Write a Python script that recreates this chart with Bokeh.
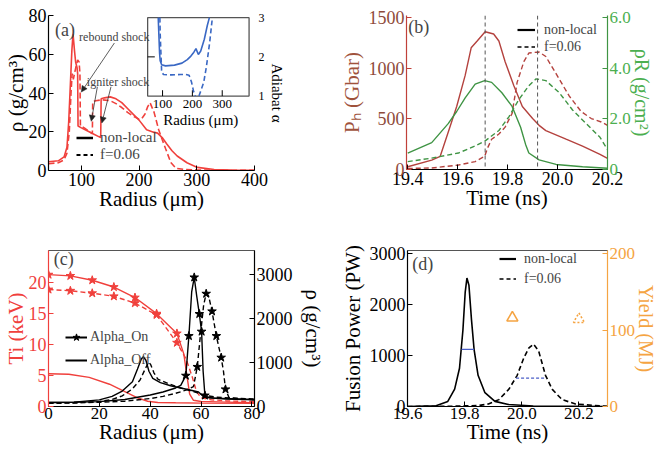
from bokeh.plotting import figure
from bokeh.models import (Range1d, LinearAxis, FixedTicker, Label, Arrow, NormalHead,
                          Legend, LegendItem, Span, PrintfTickFormatter)
from bokeh.layouts import row, column
from bokeh.embed import file_html
from bokeh.resources import INLINE
from bokeh.core.properties import value

FONT = "Liberation Serif"
NAN = float("nan")

# ---------------- data: panel (a) ----------------
a_r_nl = [43, 60, 70, 75, 78, 81, 83.5, 85.5, 88, 90, 92.5, 93.5, 94.2, 100, 110, 120, 130, 133.5, 134.2,
          140, 150, 160, 170, 180, 190, 200, 213, 225, 232, 240, 248, 257, 266, 283, 301, 330, 360, 400]
a_rho_nl = [4.5, 5, 7, 12, 25, 45, 62, 70.5, 62, 56, 53, 50, 23, 22, 20.5, 19, 17.5, 17, 37,
            37.5, 38, 37, 35, 32, 29, 26, 21, 19.8, 19.3, 17, 13.7, 10.2, 7.5, 4, 1.6, 0.5, 0.2, 0.1]
a_r_f = [43, 60, 70, 75, 79, 82, 84, 86, 88, 91, 93.5, 96, 97.5, 98.3, 105, 112, 119, 119.6, 125, 135,
         150, 160, 170, 180, 190, 200, 205, 210, 215, 219, 226, 234, 240, 246, 255, 264, 280, 300, 340, 400]
a_rho_f = [3.5, 4, 5.5, 9, 20, 40, 50, 47, 50, 54, 57, 56, 50, 23, 22, 20.5, 19, 35.5, 36, 36.5,
           36, 34.5, 32.5, 30, 28, 26.5, 27, 29, 33, 35, 30, 21, 16, 11.2, 4.1, 1.1, 0.5, 0.3, 0.15, 0.1]
A_XTICKS = [100, 200, 300, 400]
A_YTICKS = [0, 20, 40, 60, 80]

# inset (adiabat)
ins_r_nl = [85.5, 88, 90, 92, 97, 110, 140, 165, 183, 195, 205, 212, 220, 228, 240, 250, 257]
ins_a_nl = [3.0, 2.5, 2.1, 1.9, 1.8, 1.77, 1.79, 1.84, 1.93, 2.02, 2.12, 2.21, 2.06, 2.15, 2.45, 2.8, 3.0]
ins_r_f = [91, 92, 95, 97, 103, 130, 160, 178, 189, 197, 204, 210, NAN, 222, 229, 238, 247, 258, 267]
ins_a_f = [3.0, 2.6, 2.0, 1.62, 1.55, 1.54, 1.55, 1.55, 1.53, 1.36, 1.12, 1.0, NAN, 1.0, 1.15, 1.35, 1.75, 2.37, 3.0]
INS_XTICKS = [100, 200, 300]
INS_YTICKS = [1, 2, 3]

# ---------------- data: panel (b) ----------------
b_t_nl = [19.4, 19.496, 19.53, 19.562, 19.596, 19.63, 19.654, 19.678, 19.71, 19.744, 19.765, 19.79,
          19.825, 19.859, 19.9, 19.926, 19.953, 20.034, 20.1, 20.17, 20.2]
b_p_nl = [27, 93, 130, 367, 622, 929, 1201, 1268, 1360, 1337, 1268, 1064, 827, 622, 503, 436, 384, 299, 231, 150, 110]
b_t_f = [19.4, 19.496, 19.603, 19.67, 19.708, 19.72, 19.736, 19.765, 19.79, 19.818, 19.838, 19.865,
         19.885, 19.926, 19.953, 19.994, 20.047, 20.095, 20.135, 20.175, 20.2]
b_p_f = [10, 15, 44, 78, 130, 214, 299, 350, 418, 554, 860, 1064, 1150, 1160, 1115, 946, 724, 571, 503, 469, 436]
b_t_rr_nl = [19.4, 19.496, 19.562, 19.596, 19.63, 19.67, 19.708, 19.736, 19.777, 19.818, 19.852, 19.872,
             19.885, 19.926, 19.994, 20.1, 20.2]
b_rr_nl = [0.65, 1.06, 1.81, 2.29, 2.83, 3.37, 3.51, 3.44, 3.03, 2.49, 1.67, 0.99, 0.65, 0.38, 0.2, 0.11, 0.05]
b_t_rr_f = [19.4, 19.496, 19.603, 19.67, 19.71, 19.765, 19.805, 19.845, 19.885, 19.914, 19.953, 20.007,
            20.06, 20.115, 20.17, 20.2]
b_rr_f = [0.31, 0.45, 0.65, 0.93, 1.13, 1.54, 2.08, 2.76, 3.31, 3.58, 3.51, 3.03, 2.35, 1.81, 1.27, 0.79]
b_vlines = [19.71, 19.92]
B_XTICKS = [19.4, 19.6, 19.8, 20.0, 20.2]
B_YTICKS = [0, 500, 1000, 1500]
B_RTICKS = [0, 2, 4, 6]
B_RLABELS = {0: "0", 2: "2.0", 4: "4.0", 6: "6.0"}

# ---------------- data: panel (c) ----------------
c_r_ti_on_nl = [0, 8.6, 17.2, 25.7, 34, 42.5, 50.5, 53.2, 54.6, 55.5, 57, 60, 70, 81]
c_ti_on_nl = [21.3, 21.1, 20.4, 19.3, 17.6, 15.0, 11.8, 8.5, 4.5, 2.0, 1.0, 0.8, 0.7, 0.6]
c_r_ti_on_f = [0, 8.6, 17.2, 25.7, 34, 42.5, 50.5, 54.2, 56.5, 58.2, 60, 64, 70, 81]
c_ti_on_f = [18.9, 18.7, 18.3, 17.8, 16.7, 14.8, 10.3, 7.6, 4.8, 2.4, 1.4, 1.1, 0.9, 0.8]
c_ti_star_idx = [0, 1, 2, 3, 4, 5, 6]
c_r_ti_off = [0, 8, 16, 24, 28, 31, 35, 39, 43, 50, 60, 81]
c_ti_off = [5.3, 5.2, 4.7, 3.6, 2.8, 2.2, 1.4, 0.85, 0.65, 0.6, 0.55, 0.5]

c_r_rho_on_nl = [0, 10, 20, 30, 40, 45, 50, 52, 54, 55.2, 56.3, 57.3, 58.3, 59.3, 60.2, 60.8, 61.5, 63, 70, 81]
c_rho_on_nl = [90, 95, 110, 160, 260, 330, 420, 480, 700, 1600, 2600, 2930, 2500, 2100, 1700, 800, 250, 200, 170, 150]
c_on_nl_star_idx = [8, 9, 11, 13, 14, 16]
c_r_rho_on_f = [0, 10, 20, 30, 40, 45, 50, 54, 57, 58.5, 59.7, 61, 62, 63, 64.3, 66, 67.9, 68.8, 69.6, 71, 81]
c_rho_on_f = [80, 85, 95, 120, 180, 230, 300, 370, 450, 900, 1600, 2300, 2560, 2500, 2160, 1600, 1110, 800, 390, 200, 150]
c_on_f_star_idx = [9, 12, 14, 15, 16, 18]
c_r_rho_off_nl = [0, 10, 20, 25, 29, 33, 35, 36.5, 37.3, 38.3, 39.5, 41, 44, 48, 52, 56, 59, 61, 65, 81]
c_rho_off_nl = [90, 100, 150, 230, 350, 560, 850, 1080, 1130, 1050, 800, 640, 540, 470, 420, 370, 330, 220, 190, 160]
c_r_rho_off_f = [0, 10, 20, 25, 29, 33, 36, 38, 39.4, 40.2, 41.5, 43, 47, 52, 57, 61, 66, 72, 81]
c_rho_off_f = [70, 80, 110, 160, 240, 400, 600, 850, 1010, 950, 760, 620, 520, 420, 340, 260, 210, 190, 170]
C_XTICKS = [0, 20, 40, 60, 80]
C_YTICKS = [0, 5, 10, 15, 20]
C_RTICKS = [0, 1000, 2000, 3000]

# ---------------- data: panel (d) ----------------
d_t_nl = [19.6, 19.7, 19.741, 19.765, 19.782, 19.794, 19.802, 19.808, 19.815, 19.824, 19.833, 19.847,
          19.871, 19.906, 19.953, 20.04, 20.3]
d_p_nl = [0, 15, 100, 340, 750, 1500, 2245, 2520, 2380, 1700, 1122, 612, 271, 100, 40, 10, 0]
d_t_f = [19.6, 19.75, 19.85, 19.883, 19.92, 19.955, 19.984, 20.007, 20.025, 20.041, 20.059, 20.083,
         20.106, 20.141, 20.188, 20.28, 20.3]
d_p_f = [0, 5, 20, 50, 135, 340, 612, 953, 1150, 1224, 1088, 612, 340, 135, 50, 10, 5]
d_fwhm_nl_t = [19.789, 19.833]
d_fwhm_nl_p = 1120
d_fwhm_f_t = [19.98, 20.08]
d_fwhm_f_p = 558
d_yield_t = [19.967, 20.2]
d_yield = [116, 114]
D_XTICKS = [19.6, 19.8, 20.0, 20.2]
D_YTICKS = [0, 1000, 2000, 3000]
D_RTICKS = [0, 100, 200]

# ---------------- styles ----------------
RED = "#f0403c"
BLUE = "#3a68c4"
B_RED = "#b4423e"
B_GREEN = "#3f9444"
B_LTXT = "#8e4a3a"
B_RTXT = "#4caf50"
ORANGE = "#f5a442"
FW_BLUE = "#4b5fc8"
GRAY = "#555555"


def base_fig(fw, fh, xr, yr, bl, br, bt, bb, outline=None):
    p = figure(frame_width=fw, frame_height=fh, x_range=Range1d(*xr), y_range=Range1d(*yr),
               output_backend="svg", toolbar_location=None,
               min_border_left=bl, min_border_right=br, min_border_top=bt, min_border_bottom=bb)
    p.xgrid.visible = False
    p.ygrid.visible = False
    p.outline_line_color = outline
    p.outline_line_width = 1
    return p


def style_axis(ax, ticks, line_color="black", text_color="black", label=None, label_color=None,
               tick_size="18px", label_size="21px", tick_standoff=2, label_standoff=-2):
    ax.ticker = FixedTicker(ticks=ticks)
    ax.axis_line_color = line_color
    ax.axis_line_width = 1.2
    ax.major_tick_line_color = line_color
    ax.major_tick_in = 5
    ax.major_tick_out = 0
    ax.minor_tick_line_color = None
    ax.major_label_text_font = FONT
    ax.major_label_text_font_size = tick_size
    ax.major_label_text_color = text_color
    ax.major_label_standoff = tick_standoff
    if label:
        ax.axis_label = label
        ax.axis_label_text_font = FONT
        ax.axis_label_text_font_style = "normal"
        ax.axis_label_text_font_size = label_size
        ax.axis_label_text_color = label_color or text_color
        ax.axis_label_standoff = label_standoff


def add_legend(p, items, loc, gw, gh, spacing, standoff, size="14px"):
    lg = Legend(items=items, location=loc, orientation="vertical",
                background_fill_alpha=0, border_line_color=None,
                label_text_font=FONT, label_text_font_size=size,
                glyph_width=gw, glyph_height=gh, label_height=gh,
                spacing=spacing, padding=0, margin=0, label_standoff=standoff)
    p.add_layout(lg)


def panel_label(p, x, y, text, size="18px", **kw):
    p.add_layout(Label(x=x, y=y, text=text, text_font=FONT, text_font_size=size,
                       text_align="center", text_baseline="middle", **kw))


def legend_line(p, **kw):
    return p.line(x=[NAN], y=[NAN], **kw)


# ================= panel (a) =================
pa = base_fig(206, 155, (43, 400), (0, 80), 47, 78, 9, 61)
style_axis(pa.xaxis[0], A_XTICKS, label="Radius (μm)")
style_axis(pa.yaxis[0], A_YTICKS, label="ρ (g/cm³)")
pa.line(a_r_nl, a_rho_nl, line_color=RED, line_width=1.6)
pa.line(a_r_f, a_rho_f, line_color=RED, line_width=1.6, line_dash="6 3")

INS_XSRC = (50, 390)
INS_YSRC = (1, 3)
INS_XTGT = (214.8, 390.6)
INS_YTGT = (38.4, 78.9)
ins = pa.subplot(x_source=Range1d(*INS_XSRC), y_source=Range1d(*INS_YSRC),
                 x_target=Range1d(*INS_XTGT), y_target=Range1d(*INS_YTGT))
ins.quad(left=[INS_XSRC[0]], right=[INS_XSRC[1]], bottom=[INS_YSRC[0]], top=[INS_YSRC[1]],
         fill_color="white", line_color=GRAY, line_width=1.3)
ins.segment(x0=INS_XTICKS, y0=[INS_YSRC[0]] * 3, x1=INS_XTICKS, y1=[INS_YSRC[0] + 0.15] * 3,
            line_color="black", line_width=1)
ins.segment(x0=[INS_XSRC[0]], y0=[2], x1=[INS_XSRC[0] + 24], y1=[2], line_color="black", line_width=1)
ins.line(ins_r_nl, ins_a_nl, line_color=BLUE, line_width=1.6)
ins.line(ins_r_f, ins_a_f, line_color=BLUE, line_width=1.6, line_dash="5 3")
ins.text(x=INS_XTICKS, y=[0.79] * 3, text=[str(t) for t in INS_XTICKS], text_align="center",
         text_baseline="middle", text_font=value(FONT), text_font_size=value("13px"))
ins.text(x=[228], y=[0.39], text=["Radius (μm)"], text_align="center", text_baseline="middle",
         text_font=value(FONT), text_font_size=value("15px"))

_k = (INS_YSRC[1] - INS_YSRC[0]) / (INS_YTGT[1] - INS_YTGT[0])
alpha_lo = INS_YSRC[0] + (0 - INS_YTGT[0]) * _k
alpha_hi = INS_YSRC[0] + (80 - INS_YTGT[0]) * _k
pa.extra_y_ranges = {"alpha": Range1d(alpha_lo, alpha_hi)}
ax_al = LinearAxis(y_range_name="alpha", bounds=INS_YSRC)
style_axis(ax_al, INS_YTICKS, label="Adiabat α", tick_size="12px", label_size="15px",
           tick_standoff=4, label_standoff=1)
ax_al.axis_line_color = None
ax_al.major_tick_line_color = None
pa.add_layout(ax_al, "right")

for xs, ys, xe, ye in [(157.2, 65.8, 99.8, 40.5), (127.7, 43.2, 117.1, 25.4), (151.3, 43.2, 135.4, 24.5)]:
    pa.add_layout(Arrow(end=NormalHead(size=6, fill_color="#222222", line_color="#222222", line_width=0.5),
                        x_start=xs, y_start=ys, x_end=xe, y_end=ye, line_color="#333333", line_width=0.8))
panel_label(pa, 157, 69.1, "rebound shock", size="12px")
panel_label(pa, 163.5, 45.9, "igniter shock", size="12px")
panel_label(pa, 71.4, 72.5, "(a)")

la1 = legend_line(pa, line_color="black", line_width=2.5)
la2 = legend_line(pa, line_color="black", line_width=2.0, line_dash="4 3")
add_legend(pa, [LegendItem(label="non-local", renderers=[la1]), LegendItem(label="f=0.06", renderers=[la2])],
           (28, 7), 17, 17, 0, 7, size="15px")

# ================= panel (b) =================
pb = base_fig(201, 154, (19.395, 20.2), (0, 1520), 74, 54, 15, 56)
pb.extra_y_ranges = {"rr": Range1d(0, 6.08)}
style_axis(pb.xaxis[0], B_XTICKS, label="Time (ns)")
pb.xaxis[0].formatter = PrintfTickFormatter(format="%.1f")
style_axis(pb.yaxis[0], B_YTICKS, line_color="#c0403a", text_color=B_LTXT, label="Pₕ (Gbar)",
           label_color="#a0523c", label_standoff=2)
ax_rr = LinearAxis(y_range_name="rr")
style_axis(ax_rr, B_RTICKS, line_color=B_GREEN, text_color=B_RTXT, label="ρR (g/cm²)", label_color=B_RTXT,
           tick_size="17px", label_size="20px", label_standoff=-3)
ax_rr.major_label_overrides = B_RLABELS
pb.add_layout(ax_rr, "right")
for t in b_vlines:
    pb.add_layout(Span(location=t, dimension="height", line_color=GRAY, line_dash="4 3", line_width=1))
pb.line(b_t_nl, b_p_nl, line_color=B_RED, line_width=1.4)
pb.line(b_t_f, b_p_f, line_color=B_RED, line_width=1.4, line_dash="5 3")
pb.line(b_t_rr_nl, b_rr_nl, line_color=B_GREEN, line_width=1.4, y_range_name="rr")
pb.line(b_t_rr_f, b_rr_f, line_color=B_GREEN, line_width=1.4, line_dash="5 3", y_range_name="rr")
panel_label(pb, 19.444, 1408, "(b)")
lb1 = legend_line(pb, line_color="black", line_width=2.2)
lb2 = legend_line(pb, line_color="black", line_width=1.5, line_dash="4 3")
add_legend(pb, [LegendItem(label="non-local", renderers=[lb1]), LegendItem(label="f=0.06", renderers=[lb2])],
           (111, 114), 18, 17, 0, 9, size="14px")

# ================= panel (c) =================
pc = base_fig(206, 156, (0, 81), (0, 25.2), 47, 78, 25, 43, outline=GRAY)
pc.extra_y_ranges = {"rho": Range1d(0, 3540)}
style_axis(pc.xaxis[0], C_XTICKS, label="Radius (μm)", tick_size="17px", tick_standoff=1, label_standoff=-2)
style_axis(pc.yaxis[0], C_YTICKS, line_color=RED, text_color=RED, label="Ti (keV)")
ax_rho = LinearAxis(y_range_name="rho")
style_axis(ax_rho, C_RTICKS, label="ρ (g/cm³)", label_standoff=5)
pc.add_layout(ax_rho, "right")

pc.line(c_r_ti_on_nl, c_ti_on_nl, line_color=RED, line_width=1.4)
pc.line(c_r_ti_on_f, c_ti_on_f, line_color=RED, line_width=1.4, line_dash="5 3")
pc.scatter([c_r_ti_on_nl[i] for i in c_ti_star_idx], [c_ti_on_nl[i] for i in c_ti_star_idx],
           marker="star", size=9, fill_color=RED, line_color=RED)
pc.scatter([c_r_ti_on_f[i] for i in c_ti_star_idx], [c_ti_on_f[i] for i in c_ti_star_idx],
           marker="star", size=9, fill_color=RED, line_color=RED)
pc.line(c_r_ti_off, c_ti_off, line_color=RED, line_width=1.4)

pc.line(c_r_rho_off_nl, c_rho_off_nl, line_color="black", line_width=1.4, y_range_name="rho")
pc.line(c_r_rho_off_f, c_rho_off_f, line_color="black", line_width=1.4, line_dash="5 3", y_range_name="rho")
pc.line(c_r_rho_on_nl, c_rho_on_nl, line_color="black", line_width=1.4, y_range_name="rho")
pc.line(c_r_rho_on_f, c_rho_on_f, line_color="black", line_width=1.4, line_dash="5 3", y_range_name="rho")
pc.scatter([c_r_rho_on_nl[i] for i in c_on_nl_star_idx], [c_rho_on_nl[i] for i in c_on_nl_star_idx],
           marker="star", size=9, fill_color="black", line_color="black", y_range_name="rho")
pc.scatter([c_r_rho_on_f[i] for i in c_on_f_star_idx], [c_rho_on_f[i] for i in c_on_f_star_idx],
           marker="star", size=9, fill_color="black", line_color="black", y_range_name="rho")
panel_label(pc, 6.0, 23.8, "(c)")
lc1 = legend_line(pc, line_color="black", line_width=2.0)
lc1s = pc.scatter(x=[NAN], y=[NAN], marker="star", size=10, fill_color="black", line_color="black")
lc2 = legend_line(pc, line_color="black", line_width=2.0)
add_legend(pc, [LegendItem(label="Alpha_On", renderers=[lc1, lc1s]), LegendItem(label="Alpha_Off", renderers=[lc2])],
           (17, 37), 22, 18, 5, 3, size="14px")

# ================= panel (d) =================
pd_ = base_fig(200, 156, (19.6, 20.3), (0, 3060), 75, 54, 25, 43, outline=GRAY)
pd_.extra_y_ranges = {"yield": Range1d(0, 204)}
style_axis(pd_.xaxis[0], D_XTICKS, label="Time (ns)", tick_size="17px", tick_standoff=1, label_standoff=-2)
pd_.xaxis[0].formatter = PrintfTickFormatter(format="%.1f")
style_axis(pd_.yaxis[0], D_YTICKS, label="Fusion Power (PW)", label_standoff=2)
ax_y = LinearAxis(y_range_name="yield")
style_axis(ax_y, D_RTICKS, line_color=ORANGE, text_color=ORANGE, label="Yield (MJ)",
           tick_size="17px", label_size="20px", label_standoff=-3)
pd_.add_layout(ax_y, "right")
pd_.line(d_t_nl, d_p_nl, line_color="black", line_width=1.6)
pd_.line(d_t_f, d_p_f, line_color="black", line_width=1.6, line_dash="5 3")
pd_.line(d_fwhm_nl_t, [d_fwhm_nl_p] * 2, line_color=FW_BLUE, line_width=1.2)
pd_.line(d_fwhm_f_t, [d_fwhm_f_p] * 2, line_color=FW_BLUE, line_width=1.2, line_dash="3 2")
pd_.scatter([d_yield_t[0]], [d_yield[0]], marker="triangle", size=11, fill_color=None,
            line_color=ORANGE, line_width=1.6, y_range_name="yield")
pd_.scatter([d_yield_t[1]], [d_yield[1]], marker="triangle", size=11, fill_color=None,
            line_color=ORANGE, line_width=1.6, line_dash="2 2", y_range_name="yield")
panel_label(pd_, 19.653, 2790, "(d)")
ld1 = legend_line(pd_, line_color="black", line_width=2.2)
ld2 = legend_line(pd_, line_color="black", line_width=1.5, line_dash="4 3")
add_legend(pd_, [LegendItem(label="non-local", renderers=[ld1]), LegendItem(label="f=0.06", renderers=[ld2])],
           (92, 119), 17, 17, 3, 8, size="14px")

layout = column(row(pa, pb), row(pc, pd_))
open("out.html", "w").write(file_html(layout, INLINE))
